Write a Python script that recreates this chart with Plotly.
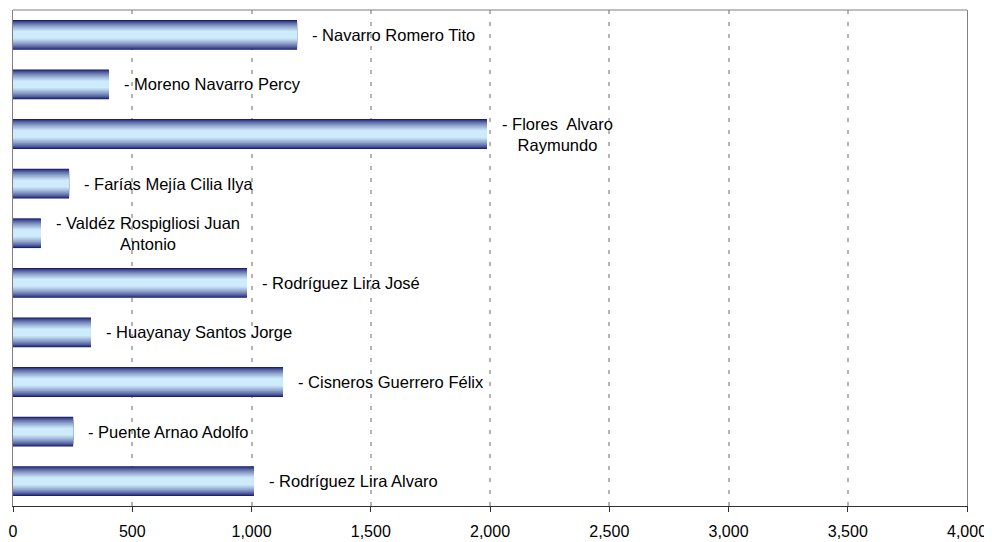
import plotly.graph_objects as go

# Data (top to bottom as displayed)
names = [
    "- Navarro Romero Tito",
    "- Moreno Navarro Percy",
    "- Flores\u00a0 Alvaro<br>Raymundo",
    "- Farías Mejía Cilia Ilya",
    "- Valdéz Rospigliosi Juan<br>Antonio",
    "- Rodríguez Lira José",
    "- Huayanay Santos Jorge",
    "- Cisneros Guerrero Félix",
    "- Puente Arnao Adolfo",
    "- Rodríguez Lira Alvaro",
]
values = [1191, 402, 1987, 235, 117, 981, 327, 1132, 252, 1010]
categories = [f"c{i}" for i in range(len(values))]
x_ticks = [0, 500, 1000, 1500, 2000, 2500, 3000, 3500, 4000]

FONT = "Liberation Sans, Arial, sans-serif"

fig = go.Figure()

# Vertical gradient simulated by overlaid bars of decreasing thickness
dark = (20, 24, 110)
light = (206, 235, 252)
n_layers = 16
full_w = 0.6
for i in range(n_layers):
    frac = 1 - i * (0.75 / (n_layers - 1))
    t = (i / (n_layers - 1)) ** 0.7
    c = tuple(int(round(dark[k] + (light[k] - dark[k]) * t)) for k in range(3))
    fig.add_trace(go.Bar(
        x=values, y=categories, orientation="h",
        width=full_w * frac,
        marker=dict(color=f"rgb{c}", line=dict(width=0)),
        showlegend=False, hoverinfo="skip",
    ))

for v, cat, label in zip(values, categories, names):
    fig.add_annotation(
        x=v, y=cat, xref="x", yref="y", text=label,
        showarrow=False, xanchor="left", yanchor="middle",
        xshift=13, align="center",
        font=dict(family=FONT, size=16.5, color="#000000"),
    )

# top border
fig.add_shape(type="line", xref="paper", yref="paper", x0=0, x1=1, y0=1, y1=1,
              line=dict(color="#808080", width=1.2))

# the page body adds an 8px offset, so the figure is sized to fit the window
fig.update_layout(
    width=984, height=534,
    margin=dict(l=5, r=25, t=2, b=36, autoexpand=False),
    paper_bgcolor="white", plot_bgcolor="white",
    barmode="overlay",
    font=dict(family=FONT, size=16.5, color="#000000"),
    xaxis=dict(
        range=[0, 4000], tickvals=x_ticks, tickformat=",",
        showgrid=True, gridcolor="#b4b4b4", griddash="4px,8px", gridwidth=1.5,
        zeroline=False, automargin=False,
        showline=True, linecolor="#303030", linewidth=1.2,
        ticks="outside", ticklen=5, tickcolor="#303030",
        ticklabelstandoff=6,
        tickfont=dict(family=FONT, size=16, color="#000000"),
    ),
    yaxis=dict(
        categoryorder="array", categoryarray=categories,
        autorange="reversed", automargin=False,
        showticklabels=False, showgrid=False, zeroline=False,
        showline=True, linecolor="#808080", linewidth=1.2, mirror=True,
        ticks="",
    ),
)

fig.write_html("out.html")
